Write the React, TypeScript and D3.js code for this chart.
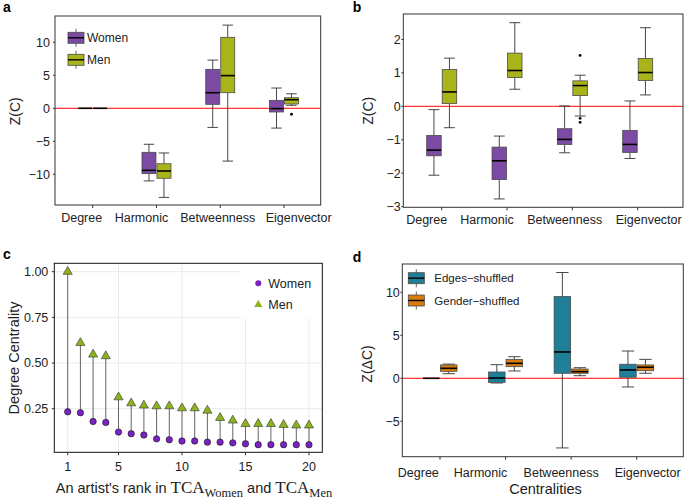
import React, { useEffect, useRef } from 'react';
import * as d3 from 'd3';

const SANS = '"Liberation Sans", Arial, Helvetica, sans-serif';
const SERIF = '"Liberation Serif", "Times New Roman", serif';

const centralities = ['Degree', 'Harmonic', 'Betweenness', 'Eigenvector'];

// box stats: [lower whisker, q1, median, q3, upper whisker]
const womenA = [[0, 0, 0, 0, 0], [-11.0, -9.9, -9.4, -6.67, -5.45], [-2.9, 0.6, 2.36, 5.9, 7.3], [-3.0, -0.56, -0.05, 1.2, 3.07]];
const menA = [[0, 0, 0, 0, 0], [-13.5, -10.6, -9.5, -8.4, -6.77], [-8.0, 2.36, 4.95, 10.75, 12.6], [0.45, 0.65, 1.3, 1.6, 2.2]];
const womenAOut: number[][] = [[], [], [], []];
const menAOut = [[], [], [], [-0.9]];

const womenB = [[-2.06, -1.48, -1.31, -0.87, -0.1], [-2.77, -2.19, -1.63, -1.22, -0.89], [-1.39, -1.14, -0.99, -0.67, 0.01], [-1.56, -1.38, -1.14, -0.72, 0.16]];
const menB = [[-0.64, 0.08, 0.43, 1.1, 1.44], [0.51, 0.86, 1.07, 1.59, 2.5], [-0.29, 0.32, 0.62, 0.76, 0.93], [0.34, 0.77, 1.01, 1.43, 2.35]];
const womenBOut: number[][] = [[], [], [], []];
const menBOut = [[], [], [1.52, -0.36, -0.48], []];

const ranks = [1, 2, 3, 4, 5, 6, 7, 8, 9, 10, 11, 12, 13, 14, 15, 16, 17, 18, 19, 20];
const womenDegree = [0.233, 0.228, 0.18, 0.175, 0.122, 0.113, 0.106, 0.085, 0.08, 0.073, 0.073, 0.067, 0.067, 0.063, 0.058, 0.053, 0.053, 0.053, 0.053, 0.053];
const menDegree = [1.0, 0.61, 0.547, 0.538, 0.313, 0.28, 0.268, 0.264, 0.264, 0.253, 0.253, 0.24, 0.2, 0.186, 0.167, 0.167, 0.167, 0.162, 0.159, 0.159];
const xTicksC = [1, 5, 10, 15, 20];
const yTicksC = [0.25, 0.5, 0.75, 1.0];

const edgesD = [[0, 0, 0, 0, 0], [-0.55, -0.47, 0.03, 0.73, 1.58], [-8.1, 0.58, 3.06, 9.5, 12.3], [-1.01, 0.12, 0.97, 1.63, 3.17]];
const genderD = [[0.53, 0.81, 1.16, 1.55, 1.65], [0.85, 1.35, 1.74, 2.2, 2.51], [0.3, 0.58, 0.77, 1.08, 1.23], [0.58, 0.88, 1.28, 1.55, 2.2]];
const noOut: number[][] = [[], [], [], []];

interface Series {
  name: string;
  boxes: number[][];
  outliers: number[][];
  fill: string;
}

interface BoxPanel {
  left: number; right: number; top: number; bottom: number;
  xFirst: number; xLast: number;
  yDomain: [number, number];
  yTicks: number[];
  series: Series[];
  boxW: number;
  labelDx: number[];
  labelY: number;
  labelGap: number;
  yTitle: string;
  yTitleX: number;
  yTitleY: number;
  legend?: { x: number; y: number; dy: number; textX: number; size: number };
}

const drawBoxPanel = (svg: any, p: BoxPanel) => {
  const x = d3.scalePoint<string>().domain(centralities).range([p.xFirst, p.xLast]);
  const y = d3.scaleLinear().domain(p.yDomain).range([p.bottom, p.top]);
  const off = d3.scaleBand<string>().domain(p.series.map(s => s.name)).range([-(p.boxW + 1), p.boxW + 1]);
  const g = svg.append('g');

  // zero reference line
  g.append('line')
    .attr('x1', p.left).attr('x2', p.right)
    .attr('y1', y(0)).attr('y2', y(0))
    .attr('stroke', '#ff0000').attr('stroke-width', 1);

  const capW = p.boxW * 0.75;
  p.series.forEach(s => {
    s.boxes.forEach((b, i) => {
      const cx = (x(centralities[i]) as number) + (off(s.name) as number) + off.bandwidth() / 2;
      const [lo, q1, med, q3, hi] = b;
      if (hi > lo) {
        const wg = g.append('g').attr('stroke', '#333').attr('stroke-width', 0.9);
        wg.append('line').attr('x1', cx).attr('x2', cx).attr('y1', y(hi)).attr('y2', y(q3));
        wg.append('line').attr('x1', cx).attr('x2', cx).attr('y1', y(q1)).attr('y2', y(lo));
        wg.append('line').attr('x1', cx - capW / 2).attr('x2', cx + capW / 2).attr('y1', y(hi)).attr('y2', y(hi));
        wg.append('line').attr('x1', cx - capW / 2).attr('x2', cx + capW / 2).attr('y1', y(lo)).attr('y2', y(lo));
        g.append('rect')
          .attr('x', cx - p.boxW / 2).attr('width', p.boxW)
          .attr('y', y(q3)).attr('height', Math.max(0, y(q1) - y(q3)))
          .attr('fill', s.fill).attr('stroke', '#4a4a4a').attr('stroke-width', 0.8);
      }
      g.append('line')
        .attr('x1', cx - p.boxW / 2).attr('x2', cx + p.boxW / 2)
        .attr('y1', y(med)).attr('y2', y(med))
        .attr('stroke', '#000').attr('stroke-width', 1.6);
      s.outliers[i].forEach(v => {
        g.append('circle').attr('cx', cx).attr('cy', y(v)).attr('r', 1.4).attr('fill', '#000');
      });
    });
  });

  // border
  g.append('rect')
    .attr('x', p.left).attr('y', p.top)
    .attr('width', p.right - p.left).attr('height', p.bottom - p.top)
    .attr('fill', 'none').attr('stroke', '#333').attr('stroke-width', 1);

  // y axis
  p.yTicks.forEach(t => {
    g.append('line').attr('x1', p.left - 2).attr('x2', p.left).attr('y1', y(t)).attr('y2', y(t)).attr('stroke', '#333');
    g.append('text')
      .attr('x', p.left - p.labelGap).attr('y', y(t)).attr('dy', '0.35em')
      .attr('text-anchor', 'end').attr('font-size', 12.5).attr('fill', '#222')
      .text(d3.format('d')(t));
  });

  // x axis
  centralities.forEach((c, i) => {
    const cx = x(c) as number;
    g.append('line').attr('x1', cx).attr('x2', cx).attr('y1', p.bottom).attr('y2', p.bottom + 3).attr('stroke', '#333');
    g.append('text')
      .attr('x', cx + p.labelDx[i]).attr('y', p.labelY)
      .attr('text-anchor', 'middle').attr('font-size', 12.5).attr('fill', '#222')
      .text(c);
  });

  g.append('text')
    .attr('transform', `translate(${p.yTitleX},${p.yTitleY}) rotate(-90)`)
    .attr('dy', '0.35em').attr('text-anchor', 'middle')
    .attr('font-size', 14).attr('fill', '#222')
    .text(p.yTitle);

  // legend
  const L = p.legend;
  if (!L) return;
  p.series.forEach((s, i) => {
    const ky = L.y + i * L.dy;
    const lg = g.append('g');
    lg.append('line').attr('x1', L.x + 8).attr('x2', L.x + 8).attr('y1', ky - 3.5).attr('y2', ky + 14.5).attr('stroke', '#555').attr('stroke-width', 0.9);
    lg.append('rect').attr('x', L.x).attr('y', ky).attr('width', 16).attr('height', 11)
      .attr('fill', s.fill).attr('stroke', '#4a4a4a').attr('stroke-width', 0.8);
    lg.append('line').attr('x1', L.x).attr('x2', L.x + 16).attr('y1', ky + 5.5).attr('y2', ky + 5.5).attr('stroke', '#000').attr('stroke-width', 1.4);
    lg.append('text').attr('x', L.textX).attr('y', ky + 5.5).attr('dy', '0.35em')
      .attr('font-size', L.size).attr('fill', '#222').text(s.name);
  });
};

const drawDegreePanel = (svg: any) => {
  const left = 54.3, right = 322.3, top = 263.3, bottom = 452.3;
  const x = d3.scaleLinear().domain([1, 20]).range([67.7, 309]);
  const y = d3.scaleLinear().domain([0.25, 1]).range([408.7, 271.7]);
  const g = svg.append('g');

  yTicksC.forEach(t => {
    g.append('line').attr('x1', left).attr('x2', right).attr('y1', y(t)).attr('y2', y(t)).attr('stroke', '#ebebeb').attr('stroke-width', 1);
  });
  xTicksC.forEach(t => {
    g.append('line').attr('x1', x(t)).attr('x2', x(t)).attr('y1', top).attr('y2', bottom).attr('stroke', '#ebebeb').attr('stroke-width', 1);
  });

  // legend background hides the grid
  g.append('rect').attr('x', 240).attr('y', top).attr('width', right - 240).attr('height', 55).attr('fill', '#fff');

  ranks.forEach((r, i) => {
    g.append('line')
      .attr('x1', x(r)).attr('x2', x(r))
      .attr('y1', y(womenDegree[i])).attr('y2', y(menDegree[i]))
      .attr('stroke', '#666').attr('stroke-width', 1);
  });
  ranks.forEach((r, i) => {
    g.append('circle').attr('cx', x(r)).attr('cy', y(womenDegree[i])).attr('r', 3.2)
      .attr('fill', '#7a22c2').attr('stroke', '#111').attr('stroke-width', 0.6);
    g.append('path')
      .attr('d', d3.symbol(d3.symbolTriangle, 36)())
      .attr('transform', `translate(${x(r)},${y(menDegree[i])})`)
      .attr('fill', '#8cb21c').attr('stroke', '#333').attr('stroke-width', 0.6);
  });

  g.append('rect').attr('x', left).attr('y', top).attr('width', right - left).attr('height', bottom - top)
    .attr('fill', 'none').attr('stroke', '#111').attr('stroke-width', 1);

  yTicksC.forEach(t => {
    g.append('line').attr('x1', left - 2.5).attr('x2', left).attr('y1', y(t)).attr('y2', y(t)).attr('stroke', '#333');
    g.append('text').attr('x', left - 6).attr('y', y(t)).attr('dy', '0.35em')
      .attr('text-anchor', 'end').attr('font-size', 12.5).attr('fill', '#222').text(d3.format('.2f')(t));
  });
  xTicksC.forEach(t => {
    g.append('line').attr('x1', x(t)).attr('x2', x(t)).attr('y1', bottom).attr('y2', bottom + 3).attr('stroke', '#333');
    g.append('text').attr('x', x(t)).attr('y', 471).attr('text-anchor', 'middle')
      .attr('font-size', 12.5).attr('fill', '#222').text(t);
  });

  // legend
  g.append('circle').attr('cx', 258.3).attr('cy', 283.3).attr('r', 3).attr('fill', '#7a22c2');
  g.append('path').attr('d', d3.symbol(d3.symbolTriangle, 30)()).attr('transform', 'translate(258.3,304.7)').attr('fill', '#8cb21c');
  g.append('text').attr('x', 268.3).attr('y', 283.3).attr('dy', '0.35em').attr('font-size', 12.5).attr('fill', '#222').text('Women');
  g.append('text').attr('x', 268.3).attr('y', 304.7).attr('dy', '0.35em').attr('font-size', 12.5).attr('fill', '#222').text('Men');

  g.append('text')
    .attr('transform', `translate(14,358) rotate(-90)`)
    .attr('dy', '0.35em').attr('text-anchor', 'middle')
    .attr('font-size', 14.5).attr('fill', '#222')
    .text('Degree Centrality');

  const t = g.append('text').attr('x', 194).attr('y', 492.5).attr('text-anchor', 'middle')
    .attr('font-size', 14.5).attr('fill', '#222');
  t.append('tspan').text("An artist's rank in ");
  t.append('tspan').attr('font-family', SERIF).attr('font-size', 17).text('TCA');
  t.append('tspan').attr('font-family', SERIF).attr('font-size', 12.5).attr('dy', 4).text('Women');
  t.append('tspan').attr('dy', -4).text(' and ');
  t.append('tspan').attr('font-family', SERIF).attr('font-size', 17).text('TCA');
  t.append('tspan').attr('font-family', SERIF).attr('font-size', 12.5).attr('dy', 4).text('Men');
};

export default function App() {
  const ref = useRef<SVGSVGElement>(null);

  useEffect(() => {
    const svg = d3.select(ref.current);
    svg.selectAll('*').remove();

    const WOMEN = '#7d4ba4';
    const MEN = '#a9b41b';

    drawBoxPanel(svg, {
      left: 55, right: 320.7, top: 16, bottom: 205,
      xFirst: 92.7, xLast: 284,
      yDomain: [-14.65, 13.98], yTicks: [-10, -5, 0, 5, 10],
      series: [
        { name: 'Women', boxes: womenA, outliers: womenAOut, fill: WOMEN },
        { name: 'Men', boxes: menA, outliers: menAOut, fill: MEN },
      ],
      boxW: 14, labelDx: [-11, -15, -2.5, 14.7], labelY: 221.7, labelGap: 5,
      yTitle: 'Z(C)', yTitleX: 15, yTitleY: 111.3,
      legend: { x: 68, y: 32.3, dy: 22, textX: 87, size: 12 },
    });

    drawBoxPanel(svg, {
      left: 403.3, right: 683, top: 14, bottom: 207.3,
      xFirst: 441.7, xLast: 637.7,
      yDomain: [-3.02, 2.76], yTicks: [-3, -2, -1, 0, 1, 2],
      series: [
        { name: 'Women', boxes: womenB, outliers: womenBOut, fill: WOMEN },
        { name: 'Men', boxes: menB, outliers: menBOut, fill: MEN },
      ],
      boxW: 14.5, labelDx: [-15, -20, -7.7, 11], labelY: 224, labelGap: 2.5,
      yTitle: 'Z(C)', yTitleX: 367.7, yTitleY: 110.7,
    });

    drawDegreePanel(svg);

    drawBoxPanel(svg, {
      left: 402.3, right: 683.3, top: 264, bottom: 456.7,
      xFirst: 440, xLast: 636.7,
      yDomain: [-9.12, 13.29], yTicks: [-5, 0, 5, 10],
      series: [
        { name: 'Edges\u2212shuffled', boxes: edgesD, outliers: noOut, fill: '#1f7e98' },
        { name: 'Gender\u2212shuffled', boxes: genderD, outliers: noOut, fill: '#d97c0c' },
      ],
      boxW: 16.5, labelDx: [-21.7, -25, -10, 11], labelY: 476.7, labelGap: 2.5,
      yTitle: 'Z(\u0394C)', yTitleX: 367.5, yTitleY: 364,
      legend: { x: 408.3, y: 272.7, dy: 22.3, textX: 434.3, size: 11.5 },
    });

    svg.append('text').attr('x', 545.5).attr('y', 494).attr('text-anchor', 'middle')
      .attr('font-size', 14.5).attr('fill', '#222').text('Centralities');

    // panel letters
    const letters: [string, number, number][] = [['a', 3, 12], ['b', 352.7, 12], ['c', 3, 258.5], ['d', 352.7, 261.7]];
    letters.forEach(([l, lx, ly]) => {
      svg.append('text').attr('x', lx).attr('y', ly).attr('font-size', 14).attr('font-weight', 'bold').attr('fill', '#000').text(l);
    });
  }, []);

  return (
    <div>
      <svg
        ref={ref}
        width={685}
        height={499}
        style={{ position: 'absolute', left: 0, top: 0, background: '#fff', fontFamily: SANS }}
      />
    </div>
  );
}
